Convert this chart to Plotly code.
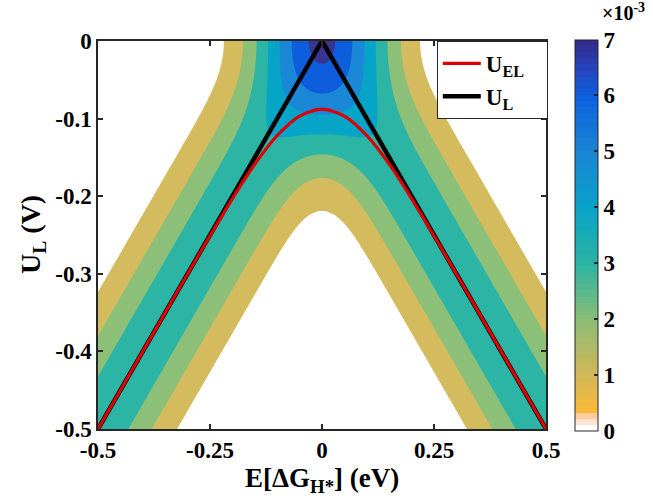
import numpy as np
import plotly.graph_objects as go

# ---------------- data ----------------
x_ticks = [-0.5, -0.25, 0, 0.25, 0.5]
x_tick_text = ["-0.5", "-0.25", "0", "0.25", "0.5"]
y_ticks = [0, -0.1, -0.2, -0.3, -0.4, -0.5]
y_tick_text = ["0", "-0.1", "-0.2", "-0.3", "-0.4", "-0.5"]
cb_ticks = [0, 1, 2, 3, 4, 5, 6, 7]

# expected limiting potential curve
uel_x = [-0.5, -0.45, -0.4, -0.35, -0.3, -0.25, -0.2, -0.15, -0.1, -0.05, 0.0,
         0.05, 0.1, 0.15, 0.2, 0.25, 0.3, 0.35, 0.4, 0.45, 0.5]
uel_y = [-0.5, -0.45, -0.4, -0.35, -0.3002, -0.2509, -0.2030, -0.1587, -0.1218, -0.0967, -0.0878,
         -0.0967, -0.1218, -0.1587, -0.2030, -0.2509, -0.3002, -0.35, -0.4, -0.45, -0.5]

# limiting potential (black line)
ul_x = [-0.5, 0.0, 0.5]
ul_y = [-0.5, 0.0, -0.5]

# probability field behind the contours: spread of dG (eV) read from band widths,
# potential bin width (V); values shown in units of 1e-3
sigma = 0.11
bin_width = 0.001
levels = [1, 2, 3, 4, 5, 6, 7]

gx = np.linspace(-0.5, 0.5, 241)
gu = np.linspace(-0.5, 0.0, 241)
X, U = np.meshgrid(gx, gu)
phi = lambda t: np.exp(-0.5 * t ** 2) / np.sqrt(2 * np.pi)
Z = bin_width * (phi((U + X) / sigma) + phi((U - X) / sigma)) / sigma * 1000.0

# ---------------- styling ----------------
band_colors = ["rgb(255,255,255)", "rgb(212,188,94)", "rgb(140,192,121)", "rgb(44,181,164)",
               "rgb(6,165,200)", "rgb(26,136,214)", "rgb(14,93,221)", "rgb(58,52,145)"]
n = len(band_colors) - 1
band_scale = []
for i, c in enumerate(band_colors):
    lo = max(0.0, (i - 0.5) / n)
    hi = min(1.0, (i + 0.5) / n)
    band_scale.append([lo, c])
    band_scale.append([hi, c])

# colorbar colormap (64 stepped entries over 0..7)
anchors_v = [0.38, 1.0, 2.0, 3.0, 4.0, 5.0, 6.0, 6.5, 7.0]
anchors_c = [(248, 186, 58), (210, 184, 88), (138, 189, 118), (42, 180, 164), (8, 163, 200),
             (26, 132, 212), (12, 96, 224), (40, 66, 186), (52, 42, 135)]
nsteps = 64
cb_scale = []
for i in range(nsteps):
    vmid = (i + 0.5) * 7.0 / nsteps
    if i == 0:
        col = (255, 255, 255)
    elif i == 1:
        col = (255, 229, 208)
    elif i == 2:
        col = (255, 204, 160)
    else:
        col = tuple(int(round(np.interp(vmid, anchors_v, [a[k] for a in anchors_c]))) for k in range(3))
    cs = "rgb(%d,%d,%d)" % col
    cb_scale.append([i / nsteps, cs])
    cb_scale.append([(i + 1) / nsteps, cs])

FONT = "Liberation Serif"
axis_col = "#262626"
L, R, T, B = 98, 107, 41, 70
PW, PH = 653 - L - R, 499 - T - B
PAD = "\u00a0\u00a0\u00a0"

fig = go.Figure()

fig.add_trace(go.Contour(
    x=gx, y=gu, z=Z,
    autocontour=False,
    contours=dict(start=levels[0], end=levels[-1], size=1, coloring="fill", showlines=False),
    colorscale=band_scale,
    line=dict(width=0),
    showscale=False,
    hoverinfo="skip",
    showlegend=False,
))

fig.add_trace(go.Scatter(
    x=ul_x, y=ul_y, mode="lines", name="<b>U<sub>L</sub></b>" + PAD,
    line=dict(color="black", width=4.5), legendrank=2,
))
fig.add_trace(go.Scatter(
    x=uel_x, y=uel_y, mode="lines", name="<b>U<sub>EL</sub></b>" + PAD,
    line=dict(color="rgb(222,0,0)", width=3.2, shape="spline", smoothing=0.8), legendrank=1,
))

# colorbar carrier (point outside the visible range)
fig.add_trace(go.Scatter(
    x=[10], y=[10], mode="markers", showlegend=False, hoverinfo="skip",
    marker=dict(color=[0], cmin=0, cmax=7, colorscale=cb_scale, showscale=True,
                colorbar=dict(
                    x=(575 - L) / PW, xanchor="left", xpad=0,
                    y=0.5, yanchor="middle", ypad=0,
                    lenmode="pixels", len=391, thickness=23,
                    outlinewidth=1, outlinecolor=axis_col,
                    tickvals=cb_ticks, ticktext=[str(t) for t in cb_ticks],
                    ticks="inside", ticklen=4, tickcolor=axis_col, tickwidth=1.5,
                    tickfont=dict(family=FONT, size=23, color="black", weight="bold"),
                )),
))

fig.add_annotation(
    text="×10<sup>-3</sup>", xref="paper", yref="paper",
    x=(601 - L) / PW, xanchor="left", y=1 + (T - 25) / PH, yanchor="bottom", showarrow=False,
    borderpad=0,
    font=dict(family=FONT, size=20, color="black", weight="bold"),
)

# axis titles placed explicitly
fig.add_annotation(
    text="<b>U<sub>L</sub> (V)</b>", xref="paper", yref="paper",
    x=(32 - L) / PW, xanchor="center", y=1 - (235 - T) / PH, yanchor="middle",
    textangle=-90, showarrow=False,
    font=dict(family=FONT, size=28, color="black"),
)
fig.add_annotation(
    text="<b>E[ΔG<sub>H*</sub>] (eV)</b>", xref="paper", yref="paper",
    x=(322 - L) / PW, xanchor="center", y=-(480 - (T + PH)) / PH, yanchor="middle",
    showarrow=False,
    font=dict(family=FONT, size=27, color="black"),
)

fig.update_layout(
    width=653, height=499,
    margin=dict(l=L, r=R, t=T, b=B, autoexpand=False),
    paper_bgcolor="white", plot_bgcolor="white",
    font=dict(family=FONT, color="black"),
    legend=dict(
        x=1.004, xanchor="right", y=1.0, yanchor="top",
        bgcolor="white", bordercolor=axis_col, borderwidth=1,
        itemwidth=38,
        font=dict(family=FONT, size=23, color="black"),
    ),
)

fig.update_xaxes(
    range=[-0.5, 0.5], tickvals=x_ticks, ticktext=x_tick_text,
    ticks="inside", ticklen=5, tickwidth=1.5, tickcolor=axis_col,
    showline=True, linecolor=axis_col, linewidth=1.5, mirror="ticks",
    showgrid=False, zeroline=False, automargin=False,
    tickfont=dict(family=FONT, size=23, color="black", weight="bold"),
)
fig.update_yaxes(
    range=[-0.5, 0.0], tickvals=y_ticks, ticktext=y_tick_text,
    ticks="inside", ticklen=5, tickwidth=1.5, tickcolor=axis_col,
    showline=True, linecolor=axis_col, linewidth=1.5, mirror="ticks",
    showgrid=False, zeroline=False, automargin=False,
    tickfont=dict(family=FONT, size=23, color="black", weight="bold"),
)

fig.write_html("out.html")
